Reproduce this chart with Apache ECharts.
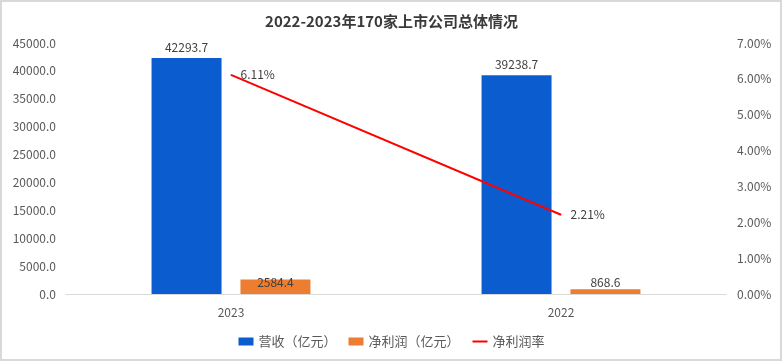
<!DOCTYPE html>
<html>
<head>
<meta charset="utf-8">
<script src="https://cdn.jsdelivr.net/npm/echarts@6/dist/echarts.min.js"></script>
<style>
html,body{margin:0;padding:0;background:#fff;}
#c{width:783px;height:364px;}
</style>
</head>
<body>
<div id="c"></div>
<script>
const categories = ['2023', '2022'];
const revenue = [42293.7, 39238.7];
const netProfit = [2584.4, 868.6];
const netMargin = [6.11, 2.21];
const seriesNames = ['营收（亿元）', '净利润（亿元）', '净利润率'];
const titleText = '2022-2023年170家上市公司总体情况';

const FONT = '"Noto Sans CJK SC", "Noto Sans", sans-serif';
const chart = echarts.init(document.getElementById('c'));

const profitLabelDistance = [-9, 1];

chart.setOption({
  animation: false,
  textStyle: { fontFamily: FONT },
  title: {
    text: titleText,
    left: 'center',
    top: 9,
    textStyle: { fontSize: 15, fontWeight: 'bold', color: '#3a3a3a', fontFamily: FONT }
  },
  graphic: [{
    type: 'rect',
    shape: { x: 1, y: 1, width: 780, height: 359 },
    style: { fill: 'none', stroke: '#d9d9d9', lineWidth: 2 },
    silent: true
  }],
  legend: {
    bottom: 11,
    left: 'center',
    itemGap: 12,
    itemWidth: 15,
    itemHeight: 8,
    textStyle: { fontSize: 13, color: '#595959', fontFamily: FONT },
    data: [
      { name: seriesNames[0], icon: 'rect' },
      { name: seriesNames[1], icon: 'rect' },
      { name: seriesNames[2], itemStyle: { opacity: 0 } }
    ]
  },
  grid: { left: 66, right: 57, top: 43, bottom: 70 },
  xAxis: {
    type: 'category',
    data: categories,
    axisLine: { lineStyle: { color: '#d9d9d9', width: 1 } },
    axisTick: { show: false },
    axisLabel: { color: '#595959', fontSize: 12, margin: 12 }
  },
  yAxis: [{
    type: 'value',
    min: 0, max: 45000, interval: 5000,
    axisLine: { show: false },
    axisTick: { show: false },
    splitLine: { show: false },
    axisLabel: { color: '#595959', fontSize: 12, margin: 10, formatter: v => v.toFixed(1) }
  }, {
    type: 'value',
    min: 0, max: 7, interval: 1,
    axisLine: { show: false },
    axisTick: { show: false },
    splitLine: { show: false },
    axisLabel: { color: '#595959', fontSize: 12, margin: 11, formatter: v => v.toFixed(2) + '%' }
  }],
  series: [{
    name: seriesNames[0],
    type: 'bar',
    data: revenue,
    barWidth: 70,
    barGap: '27%',
    itemStyle: { color: '#0b5ccf' },
    label: { show: true, position: 'top', distance: 5, color: '#404040', fontSize: 12, formatter: p => p.value.toFixed(1) }
  }, {
    name: seriesNames[1],
    type: 'bar',
    data: netProfit.map((v, i) => ({ value: v, label: { distance: profitLabelDistance[i] } })),
    barWidth: 70,
    barGap: '27%',
    itemStyle: { color: '#ed7d31' },
    label: { show: true, position: 'top', distance: 5, color: '#404040', fontSize: 12, formatter: p => p.value.toFixed(1) }
  }, {
    name: seriesNames[2],
    type: 'line',
    yAxisIndex: 1,
    data: netMargin,
    symbol: 'circle',
    symbolSize: 1,
    itemStyle: { color: '#ff0000' },
    lineStyle: { color: '#ff0000', width: 2 },
    label: { show: true, position: 'right', distance: 9, color: '#404040', fontSize: 12, formatter: p => p.value.toFixed(2) + '%' }
  }]
});
</script>
</body>
</html>
